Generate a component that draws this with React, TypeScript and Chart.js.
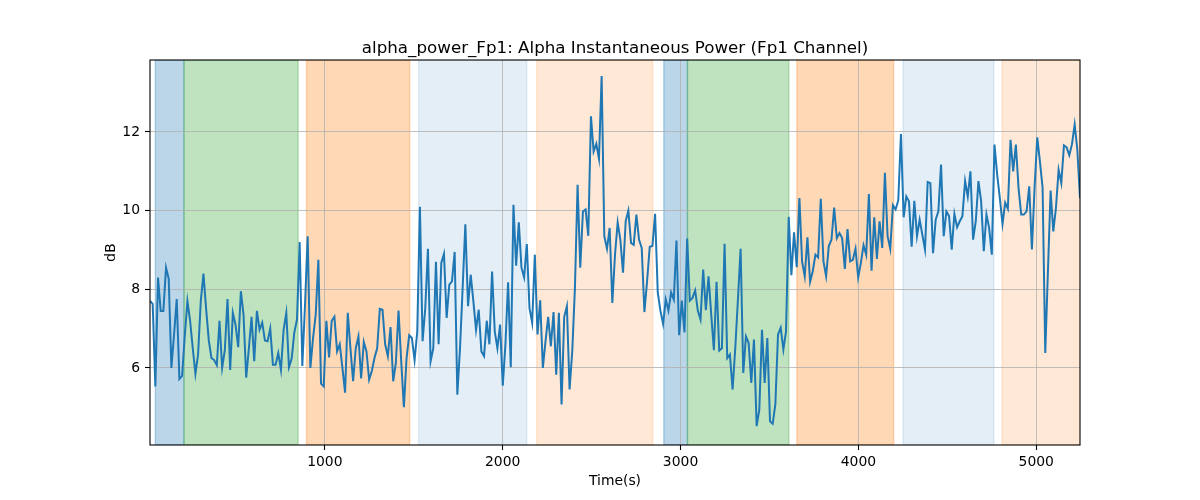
import { useEffect, useRef } from 'react'
import { Chart, registerables, type Plugin } from 'chart.js'

Chart.register(...registerables)

const TITLE   = 'alpha_power_Fp1: Alpha Instantaneous Power (Fp1 Channel)'
const X_LABEL = 'Time(s)'
const Y_LABEL = 'dB'

const LINE    = '#1f77b4'
const GRID    = '#b0b0b0'
const FONT    = "'DejaVu Sans', sans-serif"

// time span of the samples (evenly spaced between these)
const T_START = 17
const T_END   = 5246

// alpha power in dB, read left to right
const POWER_1 = [
  7.7, 7.63, 5.53, 8.3, 7.45, 7.45, 8.55, 8.27, 6.0, 6.85,
  7.75, 5.72, 5.8, 6.8, 7.7, 7.2, 6.5, 5.85, 6.35, 7.7,
  8.4, 7.5, 6.7, 6.25, 6.2, 6.07, 7.2, 6.0, 6.45, 7.75,
  5.95, 7.4, 7.1, 6.53, 7.95, 7.35, 5.75, 6.5, 7.3, 6.17,
  7.45, 6.97, 7.15, 6.7, 6.68, 7.0, 6.08, 6.08, 6.38, 5.95,
  6.97, 7.4, 6.02, 6.23, 6.9, 7.23, 9.2,
]
const POWER_2 = [
  6.05, 7.6, 9.35, 6.0, 6.75, 7.35, 8.75, 5.6, 5.53, 7.2,
  6.27, 7.2, 7.3, 6.42, 6.6, 6.0, 5.37, 7.4, 6.5, 5.66,
  6.5, 6.8, 5.73, 6.66, 6.42, 5.7, 5.92, 6.25, 6.5, 7.5,
  7.48, 6.6, 6.3, 7.04, 5.66, 6.13, 7.46, 6.17, 5.0, 6.25,
  6.83, 6.76, 6.2, 6.92, 10.1, 6.68, 7.52, 9.03, 6.17, 6.5,
  8.7, 6.6, 8.67, 8.9, 7.27, 8.12, 8.2, 8.95, 5.32,
]
const POWER_3 = [
  6.5, 8.05, 9.65, 7.57, 8.37, 7.7, 6.97, 7.48, 6.42, 6.3,
  7.2, 6.6, 8.45, 6.93, 6.5, 7.1, 5.55, 6.6, 8.18, 6.02,
  10.15, 8.6, 9.7, 8.55, 8.3, 9.15, 7.52, 7.15, 8.88, 6.85,
  7.72, 6.0, 6.68, 7.3, 6.55, 7.42, 5.83, 7.4, 5.07, 7.3,
  7.57, 5.45, 6.42, 8.03, 10.66, 8.55, 9.98, 10.03, 9.36, 12.4,
  11.5, 11.7, 11.32, 13.42, 9.35, 9.03, 9.56, 7.65,
]
const POWER_4 = [
  8.88, 9.7, 9.26, 8.42, 9.73, 10.0, 9.18, 9.13, 9.9, 9.26,
  9.05, 7.42, 8.2, 9.08, 9.1, 9.92, 7.92, 7.45, 7.12, 7.74,
  7.46, 7.92, 7.74, 9.24, 6.83, 7.71, 6.9, 9.29, 7.71, 7.78,
  7.97, 7.45, 7.23, 8.5, 7.47, 8.33, 7.36, 6.45, 8.19, 6.44,
  6.5, 9.16, 6.25, 6.34, 5.45, 6.5, 7.74, 9.03, 5.87, 6.8,
  6.64, 5.62, 6.72, 4.52, 4.94, 6.97, 5.62, 6.76,
]
const POWER_5 = [
  4.64, 4.58, 5.07, 6.85, 7.02, 6.47, 6.93, 9.84, 8.36, 9.45,
  8.56, 10.32, 8.71, 8.33, 9.32, 8.19, 8.46, 8.88, 8.81, 10.3,
  8.71, 8.33, 9.1, 9.26, 10.08, 9.3, 9.43, 9.3, 8.52, 9.53,
  8.71, 8.75, 9.03, 8.3, 8.67, 9.12, 8.88, 10.42, 8.47, 9.83,
  8.77, 9.73, 9.05, 10.96, 9.35, 9.03, 10.14, 10.03, 10.26, 11.95,
  9.83, 10.36, 10.24, 9.08, 10.25, 9.35, 9.77, 9.39,
]
const POWER_6 = [
  9.01, 10.73, 10.7, 8.92, 9.77, 9.98, 11.17, 9.35, 9.98, 9.86,
  9.01, 9.92, 9.58, 9.73, 9.86, 10.75, 10.36, 11.0, 9.26, 9.73,
  10.75, 10.24, 8.97, 9.9, 9.56, 8.88, 11.68, 10.92, 10.32, 9.66,
  10.2, 10.05, 11.8, 11.0, 11.68, 10.58, 9.9, 9.9, 9.98, 10.62,
  9.01, 10.58, 11.86, 11.25, 10.58, 6.38, 8.46, 10.51, 9.47, 10.07,
  11.04, 10.7, 11.66, 11.61, 11.41, 11.69, 12.19, 11.55, 10.32,
]

// shaded phases
const BAND_FROM = [47, 208, 897, 1527, 2191, 2906, 3039, 3654, 4251, 4808]
const BAND_TO   = [208, 850, 1477, 2135, 2844, 3039, 3609, 4198, 4762, 5300]
const BAND_KIND = ['blue', 'green', 'orange', 'paleBlue', 'paleOrange',
                   'blue', 'green', 'orange', 'paleBlue', 'paleOrange']

const X_TICKS = [1000, 2000, 3000, 4000, 5000]
const Y_TICKS = [6, 8, 10, 12]
const Y_MIN = 4.04
const Y_MAX = 13.83

const BAND_COLORS: Record<string, string> = {
  blue:       'rgba(31,119,180,0.3)',
  green:      'rgba(44,160,44,0.3)',
  orange:     'rgba(255,127,14,0.3)',
  paleBlue:   'rgba(31,119,180,0.12)',
  paleOrange: 'rgba(255,127,14,0.17)',
}

const decor: Plugin<'line'> = {
  id: 'decor',
  beforeDraw(chart) {
    const { ctx, chartArea: a, scales } = chart
    const xs = scales.x
    ctx.save()
    ctx.beginPath()
    ctx.rect(a.left, a.top, a.right - a.left, a.bottom - a.top)
    ctx.clip()
    BAND_FROM.forEach((from, i) => {
      const x0 = xs.getPixelForValue(from)
      const x1 = xs.getPixelForValue(BAND_TO[i])
      const c = BAND_COLORS[BAND_KIND[i]]
      ctx.fillStyle = c
      ctx.fillRect(x0, a.top, x1 - x0, a.bottom - a.top)
      ctx.strokeStyle = c
      ctx.lineWidth = 1.4
      ctx.strokeRect(x0, a.top, x1 - x0, a.bottom - a.top)
    })
    ctx.restore()
  },
  afterDraw(chart) {
    const { ctx, chartArea: a } = chart
    ctx.save()
    ctx.strokeStyle = '#000'
    ctx.lineWidth = 1.1
    ctx.strokeRect(a.left, a.top, a.right - a.left, a.bottom - a.top)

    const cx = (a.left + a.right) / 2
    ctx.fillStyle = '#000'
    ctx.textAlign = 'center'
    ctx.font = `16.7px ${FONT}`
    ctx.textBaseline = 'alphabetic'
    ctx.fillText(TITLE, cx, a.top - 7)

    ctx.font = `13.9px ${FONT}`
    ctx.textBaseline = 'middle'
    ctx.fillText(X_LABEL, cx, 481)

    ctx.translate(111, (a.top + a.bottom) / 2)
    ctx.rotate(-Math.PI / 2)
    ctx.fillText(Y_LABEL, 0, 0)
    ctx.restore()
  },
}

export default function App() {
  const canvasRef = useRef<HTMLCanvasElement>(null)

  useEffect(() => {
    if (!canvasRef.current) return
    document.body.style.margin = '0'

    const power = [...POWER_1, ...POWER_2, ...POWER_3, ...POWER_4, ...POWER_5, ...POWER_6]
    const step = (T_END - T_START) / (power.length - 1)
    const points = power.map((v, i) => ({ x: T_START + i * step, y: v }))

    const chart = new Chart(canvasRef.current, {
      type: 'line',
      data: {
        datasets: [
          {
            data: points,
            borderColor: LINE,
            borderWidth: 2,
            pointRadius: 0,
            tension: 0,
            fill: false,
          },
        ],
      },
      options: {
        responsive: false,
        animation: false,
        devicePixelRatio: 1,
        layout: { padding: { top: 60, right: 120, left: 0, bottom: 0 } },
        plugins: {
          legend: { display: false },
          title: { display: false },
          tooltip: { enabled: false },
        },
        scales: {
          x: {
            type: 'linear',
            min: T_START,
            max: T_END,
            afterFit: (s) => { s.height = 55 },
            afterBuildTicks: (s) => { s.ticks = X_TICKS.map((value) => ({ value })) },
            grid: { color: GRID, lineWidth: 0.8, tickColor: '#000', tickLength: 5, tickWidth: 1.1 },
            border: { display: false },
            ticks: {
              color: '#000',
              padding: 4,
              maxRotation: 0,
              font: { family: FONT, size: 13.9 },
              callback: (v) => String(v),
            },
          },
          y: {
            type: 'linear',
            min: Y_MIN,
            max: Y_MAX,
            afterFit: (s) => { s.width = 150 },
            afterBuildTicks: (s) => { s.ticks = Y_TICKS.map((value) => ({ value })) },
            grid: { color: GRID, lineWidth: 0.8, tickColor: '#000', tickLength: 5, tickWidth: 1.1 },
            border: { display: false },
            ticks: {
              color: '#000',
              padding: 5,
              font: { family: FONT, size: 13.9 },
              callback: (v) => String(v),
            },
          },
        },
      },
      plugins: [decor],
    })

    return () => chart.destroy()
  }, [])

  return (
    <div style={{ width: 1200, height: 500 }}>
      <canvas ref={canvasRef} width={1200} height={500} />
    </div>
  )
}
